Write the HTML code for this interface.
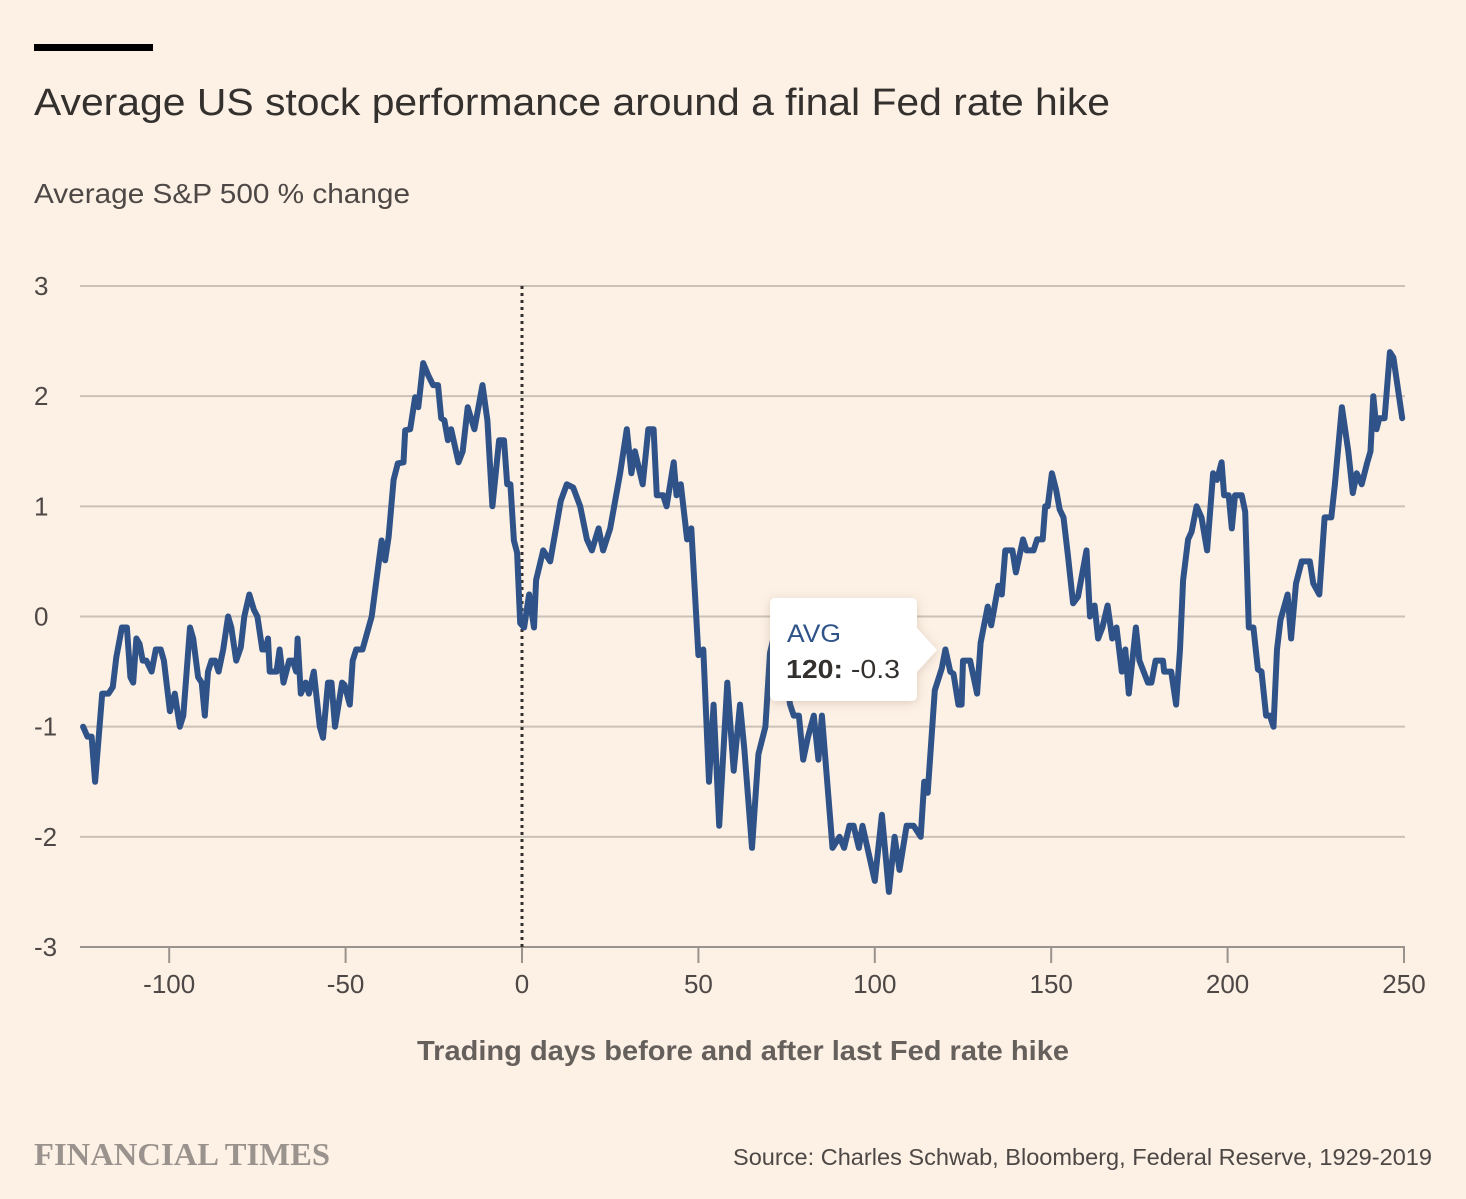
<!DOCTYPE html>
<html><head><meta charset="utf-8"><style>
html,body{margin:0;padding:0;background:#fdf1e6;}
body{width:1466px;height:1194px;overflow:hidden;font-family:"Liberation Sans",sans-serif;}
</style></head><body>
<svg width="1466" height="1194" xmlns="http://www.w3.org/2000/svg">
<defs><filter id="sh" x="-20%" y="-20%" width="140%" height="140%"><feDropShadow dx="0" dy="2" stdDeviation="5" flood-color="#7a5a40" flood-opacity="0.25"/></filter></defs>
<rect x="0" y="0" width="1466" height="1194" fill="#fdf1e6"/>
<rect x="34" y="44" width="119" height="7" fill="#000"/>
<text x="34" y="115" font-size="38" fill="#33302e" textLength="1076" lengthAdjust="spacingAndGlyphs">Average US stock performance around a final Fed rate hike</text>
<text x="34" y="203" font-size="28" fill="#4d4845" textLength="376" lengthAdjust="spacingAndGlyphs">Average S&amp;P 500 % change</text>
<g id="grid"></g>
<g id="xaxis"></g>
<line id="zeroline" stroke="#33302e" stroke-width="3" stroke-dasharray="3,4"/>
<path id="line" fill="none" stroke="#2f5388" stroke-width="6" stroke-linejoin="round" stroke-linecap="round"/>
<g filter="url(#sh)">
<path d="M776,598 H911 Q917,598 917,604 V628 L937,650 L917,672 V695 Q917,701 911,701 H776 Q770,701 770,695 V604 Q770,598 776,598 Z" fill="#fff"/>
</g>
<text x="787" y="642" font-size="25" fill="#2f5388" textLength="54" lengthAdjust="spacingAndGlyphs">AVG</text>
<text x="786" y="678" font-size="26" fill="#33302e" textLength="114" lengthAdjust="spacingAndGlyphs"><tspan font-weight="bold">120:</tspan> -0.3</text>
<text x="417" y="1060" font-size="28" font-weight="bold" fill="#66605c" textLength="652" lengthAdjust="spacingAndGlyphs">Trading days before and after last Fed rate hike</text>
<text x="34" y="1165" font-size="32" font-weight="bold" font-family="'Liberation Serif',serif" fill="#9a938d" textLength="296" lengthAdjust="spacingAndGlyphs">FINANCIAL TIMES</text>
<text x="733" y="1165" font-size="23" fill="#4d4845" textLength="699" lengthAdjust="spacingAndGlyphs">Source: Charles Schwab, Bloomberg, Federal Reserve, 1929-2019</text>
</svg>
<script>
const days = [-124.4,-123.2,-122,-121,-119,-117.2,-116,-115,-113.4,-112,-111,-110.2,-109.3,-108.4,-107.5,-106.5,-105,-103.8,-102.4,-101.5,-99.8,-98.4,-97,-96,-94.1,-93.2,-91.8,-90.8,-89.9,-89,-88,-87,-86,-84.7,-83.3,-82.4,-81,-79.7,-78.7,-77.3,-76,-75,-73.6,-72.7,-72,-71.5,-69.6,-68.7,-67.6,-66,-65,-64,-63.6,-62.7,-61.3,-60.4,-59,-57.3,-56.4,-55,-54,-53,-51,-50.3,-48.8,-48,-47,-45.2,-42.6,-39.8,-38.8,-37.8,-36.4,-35.2,-33.6,-33.1,-31.7,-30.3,-29.4,-28,-26.6,-25.2,-23.8,-22.9,-22,-21,-20.1,-18,-16.8,-15.4,-13.5,-11.2,-9.8,-8.4,-6.5,-5.1,-4.2,-3.3,-2.3,-1.4,-0.5,0.6,2,3.4,4,6,8,11,12.7,14.5,16.5,18.4,19.8,21.7,23,25,27.8,29.7,31,32,34.2,35.8,37.3,38.2,40,41,43,43.8,45,46.8,48,50,51.4,53,54.3,55.9,58.2,60,61.8,63,65.2,67,69,70.3,72,74,76,77,78.5,79.7,81,82.7,84,85,88,90,91.3,92.8,94,95.5,96.5,100,102,104,105.6,107,109,111,113,114,115,117,119,120,121.4,122.3,123.7,124.6,125,127,129,130,132,133,135,136,137,139,140,142,143,145,146,147.6,148.3,149,150.2,151.4,152.4,153.5,154.8,156.2,157.6,160,161,162.3,163.3,164.5,166,167.3,168.5,170,171,172,174,175,177.4,178.4,179.6,181.7,182,184,185.4,186.5,187.4,188.8,189.8,191.2,192.6,194.2,195.9,197,198.3,199,200.3,201.2,202.1,204,205,206,207.3,208.6,209.6,210.9,212,213,214,215,217,218,219.4,221,223.3,224.3,226,227.5,229.4,230.4,232.4,234.2,235.5,236.6,238,239.6,240.5,241.3,242.2,243,244.5,246,247,249.5];
const values = [-1.0,-1.09,-1.09,-1.5,-0.7,-0.7,-0.64,-0.37,-0.1,-0.1,-0.55,-0.6,-0.2,-0.25,-0.4,-0.4,-0.5,-0.3,-0.3,-0.4,-0.86,-0.7,-1.0,-0.9,-0.1,-0.2,-0.55,-0.6,-0.9,-0.5,-0.4,-0.4,-0.5,-0.3,0.0,-0.1,-0.4,-0.28,0.0,0.2,0.06,0.0,-0.3,-0.3,-0.2,-0.5,-0.5,-0.3,-0.6,-0.4,-0.4,-0.5,-0.2,-0.7,-0.6,-0.7,-0.5,-1.0,-1.1,-0.6,-0.6,-1.0,-0.6,-0.62,-0.8,-0.4,-0.3,-0.3,0.0,0.69,0.51,0.72,1.24,1.39,1.4,1.69,1.7,1.99,1.9,2.3,2.19,2.1,2.1,1.8,1.78,1.6,1.7,1.4,1.5,1.9,1.7,2.1,1.78,1.0,1.6,1.6,1.2,1.2,0.69,0.58,-0.06,-0.1,0.2,-0.1,0.33,0.6,0.5,1.05,1.2,1.17,1.0,0.7,0.6,0.8,0.6,0.8,1.3,1.7,1.3,1.5,1.2,1.7,1.7,1.1,1.1,1.0,1.4,1.1,1.2,0.7,0.8,-0.35,-0.3,-1.5,-0.8,-1.9,-0.6,-1.4,-0.8,-1.2,-2.1,-1.25,-1.0,-0.33,-0.1,-0.4,-0.8,-0.9,-0.9,-1.3,-1.1,-0.9,-1.3,-0.9,-2.1,-2.0,-2.1,-1.9,-1.9,-2.1,-1.9,-2.4,-1.8,-2.5,-2.0,-2.3,-1.9,-1.9,-2.0,-1.5,-1.6,-0.67,-0.47,-0.3,-0.5,-0.52,-0.8,-0.8,-0.4,-0.4,-0.7,-0.24,0.09,-0.08,0.28,0.2,0.6,0.6,0.4,0.7,0.6,0.6,0.7,0.7,1.0,1.0,1.3,1.15,0.97,0.9,0.54,0.12,0.18,0.6,0.0,0.1,-0.2,-0.1,0.1,-0.2,-0.1,-0.5,-0.3,-0.7,-0.1,-0.4,-0.6,-0.6,-0.4,-0.4,-0.5,-0.5,-0.8,-0.3,0.33,0.7,0.77,1.0,0.9,0.6,1.3,1.24,1.4,1.1,1.1,0.8,1.1,1.1,0.95,-0.1,-0.1,-0.48,-0.5,-0.9,-0.9,-1.0,-0.3,-0.03,0.2,-0.2,0.3,0.5,0.5,0.3,0.2,0.9,0.9,1.2,1.9,1.5,1.12,1.3,1.2,1.4,1.5,2.0,1.7,1.8,1.8,2.4,2.35,1.8];
const yTicks = [3,2,1,0,-1,-2,-3];
const xTicks = [-100,-50,0,50,100,150,200,250];

const NS = "http://www.w3.org/2000/svg";
const x = d => 522 + (d - 0) * (1404 - 522) / 250;
const y = v => 616.5 - v * (947 - 286) / 6;
const grid = document.getElementById('grid');
yTicks.forEach(t => {
  const l = document.createElementNS(NS, 'line');
  l.setAttribute('x1', 80); l.setAttribute('x2', 1405);
  l.setAttribute('y1', y(t)); l.setAttribute('y2', y(t));
  l.setAttribute('stroke', t === -3 ? '#9a938d' : '#ccc1b7');
  l.setAttribute('stroke-width', 2);
  
  
  grid.appendChild(l);
  const tx = document.createElementNS(NS, 'text');
  tx.setAttribute('x', 34); tx.setAttribute('y', y(t) + 9);
  tx.setAttribute('font-size', 26); tx.setAttribute('fill', '#4d4845');
  tx.textContent = t;
  
  
  grid.appendChild(tx);
});
const xa = document.getElementById('xaxis');
xTicks.forEach(t => {
  const l = document.createElementNS(NS, 'line');
  l.setAttribute('x1', x(t)); l.setAttribute('x2', x(t));
  l.setAttribute('y1', 948); l.setAttribute('y2', 963);
  l.setAttribute('stroke', '#9a938d'); l.setAttribute('stroke-width', 2);
  
  
  xa.appendChild(l);
  const tx = document.createElementNS(NS, 'text');
  tx.setAttribute('x', x(t)); tx.setAttribute('y', 993);
  tx.setAttribute('font-size', 26); tx.setAttribute('fill', '#4d4845');
  tx.setAttribute('text-anchor', 'middle');
  tx.textContent = t;
  
  
  xa.appendChild(tx);
});
const zl = document.getElementById('zeroline');
zl.setAttribute('x1', x(0)); zl.setAttribute('x2', x(0));
zl.setAttribute('y1', y(3)); zl.setAttribute('y2', y(-3));
let d = '';
days.forEach((dd, i) => { d += (i ? 'L' : 'M') + x(dd).toFixed(1) + ',' + y(values[i]).toFixed(1); });
document.getElementById('line').setAttribute('d', d);
</script>
</body></html>
